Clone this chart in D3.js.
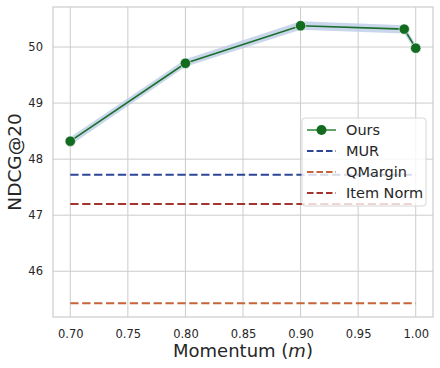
<!DOCTYPE html>
<html>
<head>
<meta charset="utf-8">
<script src="https://cdn.jsdelivr.net/npm/d3@7"></script>
<style>
  body { margin: 0; background: #fff; }
  text { font-family: "DejaVu Sans", sans-serif; }
</style>
</head>
<body>
<div id="chart"></div>
<script>
// momentum values and NDCG@20 for our method
const momentum = [0.70, 0.80, 0.90, 0.99, 1.00];
const ours = [48.32, 49.71, 50.38, 50.32, 49.98];
const oursLow = [48.25, 49.65, 50.31, 50.24, 49.92];
const oursHigh = [48.39, 49.78, 50.46, 50.39, 50.04];

// flat baselines
const baselines = [
  { name: "MUR", value: 47.72, color: "#2c4596" },
  { name: "QMargin", value: 45.43, color: "#c6643a" },
  { name: "Item Norm", value: 47.20, color: "#a3342f" }
];

const xTicks = [0.70, 0.75, 0.80, 0.85, 0.90, 0.95, 1.00];
const yTicks = [46, 47, 48, 49, 50];

const width = 440, height = 368;
const margin = { top: 7, right: 7, bottom: 51, left: 53 };
const iWidth = width - margin.left - margin.right;
const iHeight = height - margin.top - margin.bottom;

const svg = d3.select("#chart").append("svg")
  .attr("width", width)
  .attr("height", height);

const g = svg.append("g")
  .attr("transform", `translate(${margin.left},${margin.top})`);

const xScale = d3.scaleLinear().domain([0.685, 1.015]).range([0, iWidth]);
const yScale = d3.scaleLinear().domain([45.184, 50.714]).range([iHeight, 0]);

//grid
g.selectAll("line.xgrid")
  .data(xTicks)
  .join("line")
  .attr("class", "xgrid")
  .attr("x1", d => xScale(d)).attr("x2", d => xScale(d))
  .attr("y1", 0).attr("y2", iHeight)
  .attr("stroke", "#cccccc").attr("stroke-width", 1);

g.selectAll("line.ygrid")
  .data(yTicks)
  .join("line")
  .attr("class", "ygrid")
  .attr("x1", 0).attr("x2", iWidth)
  .attr("y1", d => yScale(d)).attr("y2", d => yScale(d))
  .attr("stroke", "#cccccc").attr("stroke-width", 1);

g.append("rect")
  .attr("width", iWidth).attr("height", iHeight)
  .attr("fill", "none").attr("stroke", "#cccccc").attr("stroke-width", 1.2);

// axes (no tick marks, seaborn whitegrid)
const xAxis = g.append("g")
  .attr("transform", `translate(0,${iHeight})`)
  .call(d3.axisBottom(xScale).tickValues(xTicks).tickFormat(d3.format(".2f")).tickSize(0).tickPadding(13));
const yAxis = g.append("g")
  .call(d3.axisLeft(yScale).tickValues(yTicks).tickFormat(d3.format("d")).tickSize(0).tickPadding(10));
[xAxis, yAxis].forEach(a => {
  a.select(".domain").remove();
  a.selectAll("text")
    .style("font-family", "DejaVu Sans, sans-serif")
    .style("font-size", "11.5px")
    .attr("fill", "#262626");
});

// baselines
g.selectAll("line.base")
  .data(baselines)
  .join("line")
  .attr("class", "base")
  .attr("x1", xScale(momentum[0]))
  .attr("x2", xScale(momentum[momentum.length - 1]))
  .attr("y1", d => yScale(d.value))
  .attr("y2", d => yScale(d.value))
  .attr("stroke", d => d.color)
  .attr("stroke-width", 2)
  .attr("stroke-dasharray", "8.3,3.6");

// confidence band
const band = d3.area()
  .x((d, i) => xScale(momentum[i]))
  .y0((d, i) => yScale(oursLow[i]))
  .y1((d, i) => yScale(oursHigh[i]));
g.append("path")
  .datum(ours)
  .attr("d", band)
  .attr("fill", "#b7c8e4")
  .attr("opacity", 0.75);

const line = d3.line()
  .x((d, i) => xScale(momentum[i]))
  .y(d => yScale(d));
g.append("path")
  .datum(ours)
  .attr("d", line)
  .attr("fill", "none")
  .attr("stroke", "#1b6e2a")
  .attr("stroke-width", 1.6);

g.selectAll("circle.pt")
  .data(ours)
  .join("circle")
  .attr("class", "pt")
  .attr("cx", (d, i) => xScale(momentum[i]))
  .attr("cy", d => yScale(d))
  .attr("r", 5.2)
  .attr("fill", "#126b1f")
  .attr("stroke", "#ffffff")
  .attr("stroke-width", 0.6);

// legend
const lg = svg.append("g").attr("transform", "translate(302,118)");
lg.append("rect")
  .attr("width", 124).attr("height", 88)
  .attr("rx", 3)
  .attr("fill", "#ffffff").attr("fill-opacity", 0.8)
  .attr("stroke", "#d6d6d6").attr("stroke-width", 1);

const items = [{ name: "Ours", color: "#3d8a49" }].concat(baselines.map(b => ({ name: b.name, color: b.color })));
items.forEach((it, i) => {
  const y = 12 + i * 21;
  const row = lg.append("g").attr("transform", `translate(0,${y})`);
  if (i === 0) {
    row.append("line").attr("x1", 5).attr("x2", 34).attr("y1", 0).attr("y2", 0)
      .attr("stroke", it.color).attr("stroke-width", 1.6);
    row.append("circle").attr("cx", 19.5).attr("cy", 0).attr("r", 5)
      .attr("fill", "#126b1f");
  } else {
    row.append("line").attr("x1", 5).attr("x2", 34).attr("y1", 0).attr("y2", 0)
      .attr("stroke", it.color).attr("stroke-width", 2)
      .attr("stroke-dasharray", "6.5,3");
  }
  row.append("text")
    .attr("x", 44).attr("y", 0).attr("dy", "0.36em")
    .style("font-size", "14.5px")
    .attr("fill", "#262626")
    .text(it.name);
});

// axis labels
svg.append("text")
  .attr("transform", `translate(21,${margin.top + iHeight / 2}) rotate(-90)`)
  .attr("text-anchor", "middle")
  .style("font-size", "18.5px")
  .attr("fill", "#262626")
  .text("NDCG@20");

const xl = svg.append("text")
  .attr("x", margin.left + iWidth / 2)
  .attr("y", 357)
  .attr("text-anchor", "middle")
  .style("font-size", "18px")
  .attr("fill", "#262626");
xl.append("tspan").text("Momentum (");
xl.append("tspan").style("font-style", "italic").text("m");
xl.append("tspan").text(")");
</script>
</body>
</html>
